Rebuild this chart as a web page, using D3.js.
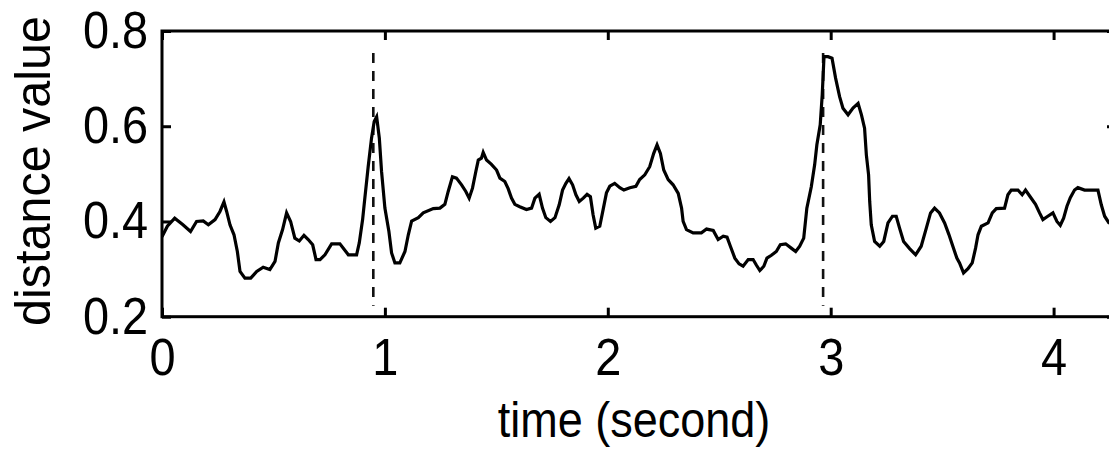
<!DOCTYPE html>
<html>
<head>
<meta charset="utf-8">
<script src="https://cdn.jsdelivr.net/npm/d3@7"></script>
<style>
	html, body { margin: 0; padding: 0; background: #fff; overflow: hidden; }
	svg { display: block; }
	text { font-family: "Liberation Sans", Arial, sans-serif; fill: #000; }
</style>
</head>
<body>
<svg id="svg" width="1109" height="449"></svg>
<script>

// time axis samples (seconds)
var times = [
	0.000, 0.024, 0.057, 0.094, 0.128, 0.155, 0.185, 0.208, 0.238, 0.260,
	0.278, 0.290, 0.305, 0.323, 0.338, 0.350, 0.372, 0.398, 0.425, 0.454,
	0.484, 0.507, 0.522, 0.541, 0.559, 0.577, 0.596, 0.616, 0.637, 0.656,
	0.676, 0.691, 0.709, 0.731, 0.761, 0.798, 0.836, 0.873, 0.885, 0.900,
	0.910, 0.925, 0.940, 0.952, 0.963, 0.975, 0.985, 1.000, 1.018, 1.030,
	1.045, 1.067, 1.090, 1.105, 1.120, 1.150, 1.172, 1.217, 1.247, 1.269,
	1.284, 1.303, 1.321, 1.344, 1.363, 1.378, 1.393, 1.408, 1.419, 1.433,
	1.441, 1.456, 1.478, 1.501, 1.516, 1.538, 1.553, 1.568, 1.583, 1.605,
	1.635, 1.658, 1.673, 1.692, 1.707, 1.722, 1.743, 1.763, 1.782, 1.797,
	1.812, 1.826, 1.842, 1.857, 1.872, 1.890, 1.907, 1.922, 1.934, 1.946,
	1.964, 1.979, 1.994, 2.009, 2.031, 2.054, 2.072, 2.099, 2.126, 2.143,
	2.166, 2.188, 2.206, 2.221, 2.236, 2.251, 2.271, 2.293, 2.316, 2.331,
	2.338, 2.353, 2.383, 2.420, 2.443, 2.473, 2.495, 2.518, 2.535, 2.550,
	2.570, 2.589, 2.607, 2.630, 2.652, 2.667, 2.682, 2.700, 2.714, 2.734,
	2.756, 2.774, 2.798, 2.823, 2.843, 2.861, 2.879, 2.893, 2.913, 2.928,
	2.938, 2.953, 2.962, 2.970, 2.988, 3.006, 3.022, 3.040, 3.055, 3.078,
	3.100, 3.123, 3.138, 3.152, 3.160, 3.170, 3.175, 3.182, 3.197, 3.220,
	3.238, 3.257, 3.277, 3.294, 3.309, 3.327, 3.354, 3.381, 3.406, 3.429,
	3.448, 3.466, 3.488, 3.511, 3.530, 3.548, 3.566, 3.578, 3.596, 3.616,
	3.635, 3.650, 3.661, 3.676, 3.706, 3.725, 3.743, 3.780, 3.795, 3.810,
	3.840, 3.859, 3.874, 3.895, 3.919, 3.937, 3.952, 3.974, 3.997, 4.015,
	4.030, 4.045, 4.060, 4.075, 4.094, 4.109, 4.139, 4.199, 4.214, 4.229,
	4.244, 4.265
];

// distance value at each sample
var distances = [
	0.368, 0.390, 0.407, 0.393, 0.379, 0.400, 0.401, 0.393, 0.404, 0.421,
	0.441, 0.421, 0.393, 0.372, 0.337, 0.295, 0.281, 0.281, 0.295, 0.304,
	0.299, 0.316, 0.355, 0.383, 0.418, 0.400, 0.365, 0.359, 0.371, 0.362,
	0.351, 0.320, 0.320, 0.330, 0.353, 0.353, 0.330, 0.330, 0.355, 0.404,
	0.449, 0.515, 0.575, 0.610, 0.620, 0.575, 0.505, 0.428, 0.379, 0.334,
	0.313, 0.313, 0.337, 0.372, 0.401, 0.408, 0.418, 0.427, 0.428, 0.436,
	0.463, 0.494, 0.491, 0.477, 0.463, 0.449, 0.470, 0.505, 0.529, 0.533,
	0.545, 0.529, 0.520, 0.508, 0.491, 0.484, 0.469, 0.449, 0.436, 0.431,
	0.425, 0.428, 0.449, 0.457, 0.428, 0.408, 0.400, 0.408, 0.435, 0.466,
	0.480, 0.490, 0.477, 0.456, 0.442, 0.449, 0.457, 0.452, 0.414, 0.386,
	0.390, 0.425, 0.460, 0.474, 0.480, 0.471, 0.466, 0.471, 0.474, 0.488,
	0.498, 0.515, 0.543, 0.561, 0.543, 0.508, 0.488, 0.477, 0.459, 0.428,
	0.400, 0.383, 0.376, 0.376, 0.384, 0.381, 0.362, 0.369, 0.367, 0.348,
	0.323, 0.311, 0.306, 0.320, 0.320, 0.308, 0.297, 0.306, 0.323, 0.329,
	0.337, 0.351, 0.353, 0.344, 0.337, 0.348, 0.365, 0.428, 0.473, 0.519,
	0.561, 0.603, 0.666, 0.746, 0.746, 0.743, 0.701, 0.662, 0.638, 0.624,
	0.638, 0.648, 0.624, 0.596, 0.540, 0.498, 0.442, 0.393, 0.358, 0.348,
	0.358, 0.397, 0.411, 0.411, 0.386, 0.358, 0.343, 0.330, 0.348, 0.386,
	0.418, 0.428, 0.418, 0.397, 0.373, 0.348, 0.323, 0.313, 0.292, 0.301,
	0.313, 0.344, 0.372, 0.390, 0.397, 0.418, 0.427, 0.428, 0.456, 0.466,
	0.466, 0.456, 0.466, 0.452, 0.436, 0.418, 0.404, 0.411, 0.418, 0.400,
	0.392, 0.407, 0.432, 0.450, 0.466, 0.471, 0.466, 0.466, 0.435, 0.411,
	0.400, 0.390
];

// dashed event markers (seconds) and the value span they cover
var eventTimes = [0.948, 2.966];
var eventSpan = [0.223, 0.754];

var xTicks = [0, 1, 2, 3, 4];
var yTicks = [0.2, 0.4, 0.6, 0.8];
var xLabels = ["0", "1", "2", "3", "4"];
var yLabels = ["0.2", "0.4", "0.6", "0.8"];

var xDomain = [0, 4.28];
var yDomain = [0.2, 0.8];

var box = { left: 162, top: 31, right: 1116, bottom: 316.7 },
	tickLen = 9,
	fontSize = 51,
	squeeze = 0.92;

var svg = d3.select('#svg');

var x = d3.scaleLinear().domain(xDomain).range([box.left, box.right]),
	y = d3.scaleLinear().domain(yDomain).range([box.bottom, box.top]);

svg.append('defs').append('clipPath')
	.attr('id', 'plot-clip')
	.append('rect')
	.attr('x', box.left)
	.attr('y', box.top)
	.attr('width', box.right - box.left)
	.attr('height', box.bottom - box.top);

// inward ticks on all four sides
function styleAxis(g){
	g.select('.domain').remove();
	g.selectAll('.tick line').attr('stroke', '#000').attr('stroke-width', 3);
	g.selectAll('.tick text')
		.style('font-size', fontSize + 'px')
		.style('font-family', '"Liberation Sans", Arial, sans-serif')
		.attr('fill', '#000');
}

svg.append('g')
	.attr('transform', 'translate(0,' + box.bottom + ')')
	.call(d3.axisBottom(x).tickValues(xTicks)
		.tickFormat(function(d, i){ return xLabels[i]; })
		.tickSize(-tickLen).tickSizeOuter(0).tickPadding(22))
	.call(styleAxis)
	.selectAll('.tick text')
	.attr('transform', 'scale(' + squeeze + ',1)');

svg.append('g')
	.attr('transform', 'translate(' + box.left + ',0)')
	.call(d3.axisLeft(y).tickValues(yTicks)
		.tickFormat(function(d, i){ return yLabels[i]; })
		.tickSize(-tickLen).tickSizeOuter(0).tickPadding(15))
	.call(styleAxis)
	.selectAll('.tick text')
	.attr('transform', 'scale(' + squeeze + ',1)');

svg.append('g')
	.attr('transform', 'translate(0,' + box.top + ')')
	.call(d3.axisTop(x).tickValues(xTicks).tickFormat('')
		.tickSize(-tickLen).tickSizeOuter(0))
	.call(styleAxis);

svg.append('g')
	.attr('transform', 'translate(' + box.right + ',0)')
	.call(d3.axisRight(y).tickValues(yTicks).tickFormat('')
		.tickSize(-tickLen).tickSizeOuter(0))
	.call(styleAxis);

// dashed markers
svg.append('g')
	.selectAll('line')
	.data(eventTimes)
	.enter()
	.append('line')
	.attr('x1', function(d){ return x(d); })
	.attr('x2', function(d){ return x(d); })
	.attr('y1', y(eventSpan[1]))
	.attr('y2', y(eventSpan[0]))
	.attr('stroke', '#111')
	.attr('stroke-width', 2.6)
	.attr('stroke-dasharray', '10,8');

// the distance curve
var points = times.map(function(t, i){ return [t, distances[i]]; });

svg.append('path')
	.datum(points)
	.attr('clip-path', 'url(#plot-clip)')
	.attr('fill', 'none')
	.attr('stroke', '#000')
	.attr('stroke-width', 3.2)
	.attr('stroke-linejoin', 'miter')
	.attr('d', d3.line()
		.x(function(d){ return x(d[0]); })
		.y(function(d){ return y(d[1]); }));

// frame
svg.append('rect')
	.attr('x', box.left)
	.attr('y', box.top)
	.attr('width', box.right - box.left)
	.attr('height', box.bottom - box.top)
	.attr('fill', 'none')
	.attr('stroke', '#000')
	.attr('stroke-width', 3);

// axis titles
svg.append('text')
	.attr('transform', 'translate(634,437) scale(0.9,1)')
	.attr('text-anchor', 'middle')
	.style('font-size', '50px')
	.text('time (second)');

svg.append('text')
	.attr('transform', 'translate(50,171) rotate(-90) scale(0.97,1)')
	.attr('text-anchor', 'middle')
	.style('font-size', '50px')
	.text('distance value');

</script>
</body>
</html>
